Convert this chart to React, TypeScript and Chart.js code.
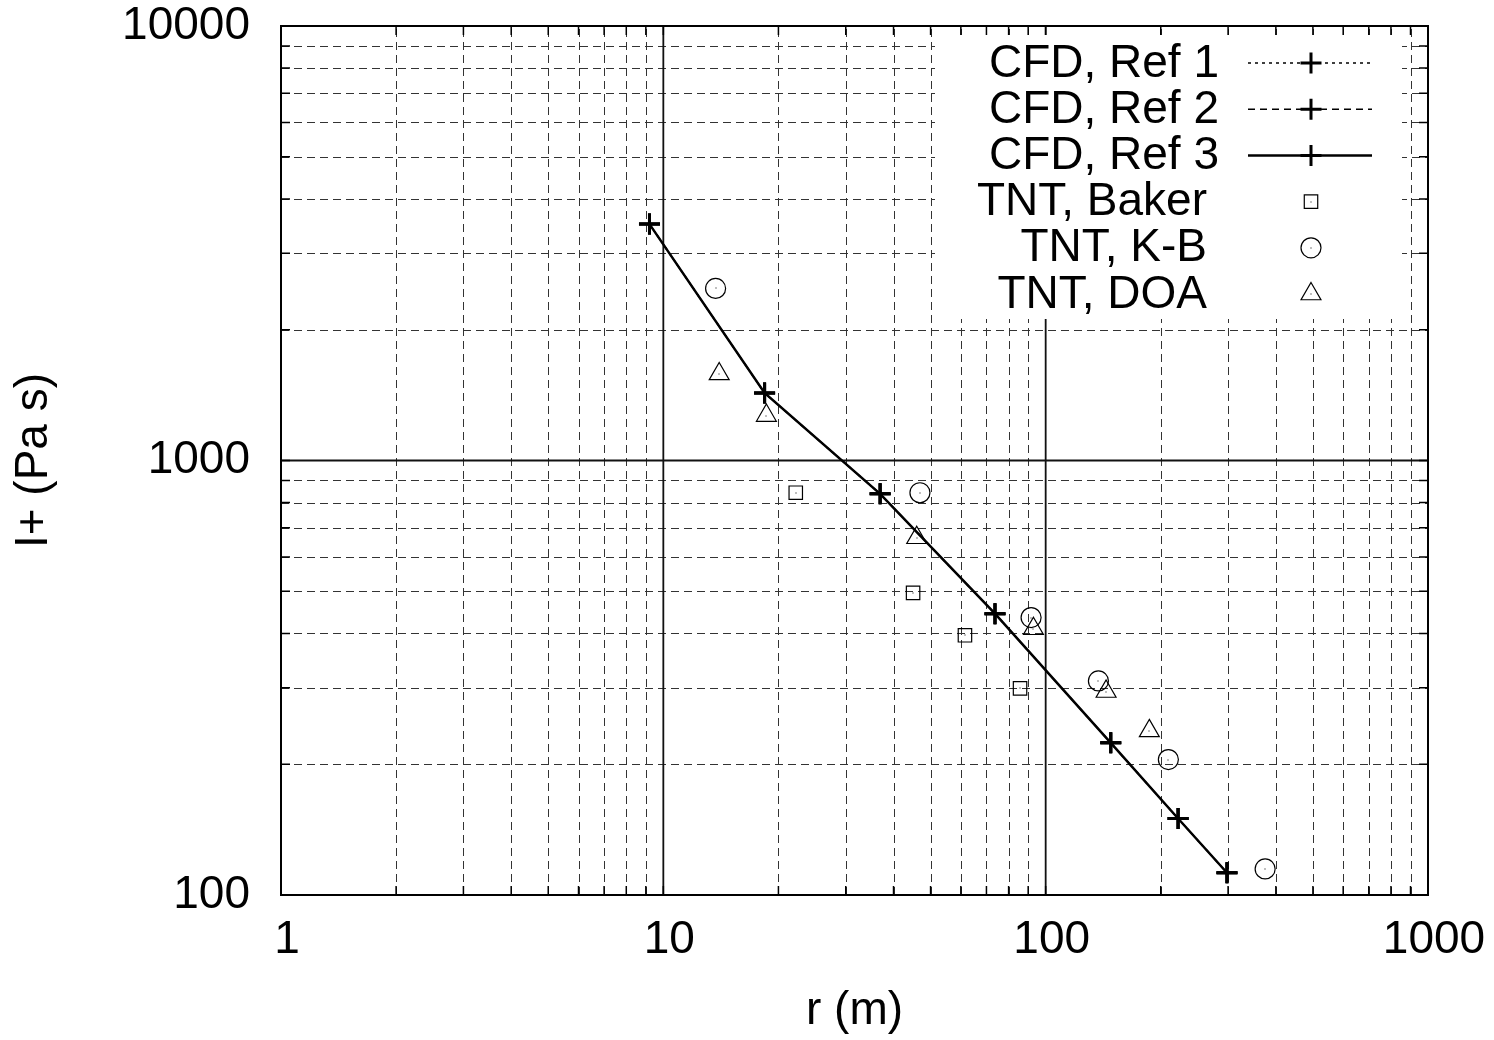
import React, { useEffect, useRef } from "react";
import { Chart, registerables } from "chart.js";

Chart.register(...registerables);

// ---- data ----
const cfdRadius = [9.2, 18.4, 36.9, 73.7, 148, 222, 298];
const cfdRef1Impulse = [3500, 1430, 838, 444, 224, 150, 112.5];
const cfdRef2Impulse = [3500, 1430, 838, 444, 224, 150, 112.5];
const cfdRef3Impulse = [3500, 1430, 838, 444, 224, 150, 112.5];
const bakerRadius = [22.2, 45.0, 61.5, 85.7];
const bakerImpulse = [843, 496, 396, 299];
const kbRadius = [13.7, 46.9, 91.6, 137.4, 209.4, 375];
const kbImpulse = [2489, 843, 435, 311, 205, 114.8];
const doaRadius = [14.0, 18.6, 46.0, 92.9, 143.9, 186.7];
const doaImpulse = [1582, 1269, 664, 410, 294, 238.6];
const seriesLabels = ["CFD, Ref 1", "CFD, Ref 2", "CFD, Ref 3", "TNT, Baker", "TNT, K-B", "TNT, DOA"];
const xTickValues = [1, 10, 100, 1000];
const yTickValues = [100, 1000, 10000];
const xTitle = "r (m)";
const yTitle = "I+ (Pa s)";

const FONT = "'Liberation Sans', Arial, Helvetica, sans-serif";
const FS = 46;

const pts = (xs: number[], ys: number[]) => xs.map((x, i) => ({ x, y: ys[i] }));

const minorBetween = (decades: number[]) => {
  const out: number[] = [];
  for (let i = 0; i < decades.length - 1; i++) {
    for (let m = 2; m <= 9; m++) out.push(decades[i] * m);
  }
  return out;
};

const xMinor = minorBetween(xTickValues);
const yMinor = minorBetween(yTickValues);

type Marker = "cross" | "rect" | "circle" | "triangle";

function drawMarker(ctx: CanvasRenderingContext2D, kind: Marker, x: number, y: number, r: number, lw: number) {
  ctx.save();
  ctx.setLineDash([]);
  ctx.strokeStyle = "#000";
  ctx.lineWidth = lw;
  ctx.beginPath();
  if (kind === "cross") {
    ctx.moveTo(x - r, y);
    ctx.lineTo(x + r, y);
    ctx.moveTo(x, y - r);
    ctx.lineTo(x, y + r);
  } else if (kind === "rect") {
    const s = r * Math.SQRT1_2;
    ctx.rect(x - s, y - s, 2 * s, 2 * s);
  } else if (kind === "circle") {
    ctx.arc(x, y, r, 0, Math.PI * 2);
  } else {
    let a = 0;
    ctx.moveTo(x + Math.sin(a) * r, y - Math.cos(a) * r);
    a += (2 * Math.PI) / 3;
    ctx.lineTo(x + Math.sin(a) * r, y - Math.cos(a) * r);
    a += (2 * Math.PI) / 3;
    ctx.lineTo(x + Math.sin(a) * r, y - Math.cos(a) * r);
    ctx.closePath();
  }
  ctx.stroke();
  if (kind !== "cross") {
    ctx.fillStyle = "#000";
    ctx.fillRect(Math.round(x) - 0.5, Math.round(y) - 0.5, 1, 1);
  }
  ctx.restore();
}

const gnuplotDecor = {
  id: "gnuplotDecor",
  beforeDatasetsDraw(chart: any) {
    const { ctx, chartArea: a, scales } = chart;
    const xs = scales.x;
    const ys = scales.y;
    ctx.save();
    // minor dashed grid
    ctx.lineWidth = 1;
    ctx.strokeStyle = "#333";
    ctx.setLineDash([8, 5]);
    ctx.beginPath();
    for (const v of xMinor) {
      const px = Math.round(xs.getPixelForValue(v)) + 0.5;
      ctx.moveTo(px, a.bottom);
      ctx.lineTo(px, a.top);
    }
    for (const v of yMinor) {
      const py = Math.round(ys.getPixelForValue(v)) + 0.5;
      ctx.moveTo(a.left, py);
      ctx.lineTo(a.right, py);
    }
    ctx.stroke();
    // major solid grid (inner decades)
    ctx.setLineDash([]);
    ctx.lineWidth = 1.8;
    ctx.strokeStyle = "#111";
    ctx.beginPath();
    for (const v of xTickValues.slice(1, -1)) {
      const px = xs.getPixelForValue(v);
      ctx.moveTo(px, a.bottom);
      ctx.lineTo(px, a.top);
    }
    for (const v of yTickValues.slice(1, -1)) {
      const py = ys.getPixelForValue(v);
      ctx.moveTo(a.left, py);
      ctx.lineTo(a.right, py);
    }
    ctx.stroke();
    ctx.restore();
  },
  afterDatasetsDraw(chart: any) {
    const { ctx, chartArea: a, scales } = chart;
    const xs = scales.x;
    const ys = scales.y;
    // centre dots of open markers
    chart.data.datasets.forEach((ds: any, i: number) => {
      if (ds.showLine) return;
      const meta = chart.getDatasetMeta(i);
      ctx.save();
      ctx.fillStyle = "#000";
      meta.data.forEach((el: any) => {
        ctx.fillRect(Math.round(el.x) - 0.5, Math.round(el.y) - 0.5, 1, 1);
      });
      ctx.restore();
    });

    // legend box
    ctx.save();
    ctx.fillStyle = "#fff";
    ctx.fillRect(935, 35, 467, 284);
    ctx.font = `${FS}px ${FONT}`;
    ctx.fillStyle = "#000";
    ctx.textAlign = "right";
    ctx.textBaseline = "middle";
    chart.data.datasets.forEach((ds: any, i: number) => {
      const cy = 63 + i * 46.2;
      const textRight = ds.showLine ? 1219 : 1207;
      ctx.fillText(ds.label, textRight, cy + 1);
      if (ds.showLine) {
        ctx.save();
        ctx.strokeStyle = "#000";
        ctx.lineWidth = ds.borderWidth;
        ctx.setLineDash(ds.borderDash || []);
        ctx.beginPath();
        ctx.moveTo(1248, cy);
        ctx.lineTo(1372, cy);
        ctx.stroke();
        ctx.restore();
      }
      drawMarker(ctx, ds.pointStyle, 1311, cy, ds.pointRadius, ds.pointBorderWidth);
    });
    ctx.restore();

    // ticks (inward, all four sides)
    ctx.save();
    ctx.strokeStyle = "#000";
    ctx.lineWidth = 1.5;
    ctx.setLineDash([]);
    ctx.beginPath();
    const tl = 9;
    for (const v of [...xMinor, ...xTickValues]) {
      const px = xs.getPixelForValue(v);
      ctx.moveTo(px, a.bottom);
      ctx.lineTo(px, a.bottom - tl);
      ctx.moveTo(px, a.top);
      ctx.lineTo(px, a.top + tl);
    }
    for (const v of [...yMinor, ...yTickValues]) {
      const py = ys.getPixelForValue(v);
      ctx.moveTo(a.left, py);
      ctx.lineTo(a.left + tl, py);
      ctx.moveTo(a.right, py);
      ctx.lineTo(a.right - tl, py);
    }
    ctx.stroke();
    // frame
    ctx.lineWidth = 2;
    ctx.strokeRect(a.left, a.top, a.right - a.left, a.bottom - a.top);
    ctx.restore();
  },
};

export default function App() {
  const ref = useRef<HTMLCanvasElement>(null);

  useEffect(() => {
    const canvas = ref.current;
    if (!canvas) return;
    const lineSet = (label: string, ys: number[], dash: number[], width: number) => ({
      label,
      data: pts(cfdRadius, ys),
      showLine: true,
      borderColor: "#000",
      backgroundColor: "#000",
      borderWidth: width,
      borderDash: dash,
      pointStyle: "cross",
      pointRadius: 10.5,
      pointBorderWidth: 3,
      pointBorderColor: "#000",
      tension: 0,
    });
    const markSet = (label: string, xs: number[], ys: number[], style: string, r: number) => ({
      label,
      data: pts(xs, ys),
      showLine: false,
      borderColor: "#000",
      backgroundColor: "rgba(0,0,0,0)",
      pointStyle: style,
      pointRadius: r,
      pointBorderWidth: 1.2,
      pointBorderColor: "#000",
      pointBackgroundColor: "rgba(0,0,0,0)",
    });

    const chart = new Chart(canvas, {
      type: "scatter",
      data: {
        datasets: [
          lineSet(seriesLabels[0], cfdRef1Impulse, [3, 4], 1.5),
          lineSet(seriesLabels[1], cfdRef2Impulse, [7, 5], 1.5),
          lineSet(seriesLabels[2], cfdRef3Impulse, [], 2.5),
          markSet(seriesLabels[3], bakerRadius, bakerImpulse, "rect", 9.5),
          markSet(seriesLabels[4], kbRadius, kbImpulse, "circle", 10),
          markSet(seriesLabels[5], doaRadius, doaImpulse, "triangle", 11.5),
        ] as any,
      },
      options: {
        animation: false,
        responsive: false,
        maintainAspectRatio: false,
        devicePixelRatio: 1,
        events: [],
        layout: { padding: { top: 26, right: 66, left: 0, bottom: 0 } },
        plugins: {
          legend: { display: false },
          tooltip: { enabled: false },
          title: { display: false },
        },
        scales: {
          x: {
            type: "logarithmic",
            position: "bottom",
            min: 1,
            max: 1000,
            afterFit: (s: any) => {
              s.height = 145;
              s.paddingLeft = 0;
              s.paddingRight = 0;
              s.paddingTop = 0;
              s.paddingBottom = 0;
            },
            afterBuildTicks: (s: any) => {
              s.ticks = xTickValues.map((v) => ({ value: v }));
            },
            grid: { display: false, drawTicks: false },
            border: { display: false },
            ticks: {
              callback: (v: any) => String(v),
              font: { family: FONT, size: FS },
              color: "#000",
              padding: 18,
              labelOffset: 6,
              maxRotation: 0,
              autoSkip: false,
            },
            title: {
              display: true,
              text: xTitle,
              font: { family: FONT, size: FS },
              color: "#000",
              padding: { top: 0, bottom: 1 },
            },
          },
          y: {
            type: "logarithmic",
            position: "left",
            min: 100,
            max: 10000,
            afterFit: (s: any) => {
              s.width = 281;
              s.paddingLeft = 0;
              s.paddingRight = 0;
              s.paddingTop = 0;
              s.paddingBottom = 0;
            },
            afterBuildTicks: (s: any) => {
              s.ticks = yTickValues.map((v) => ({ value: v }));
            },
            grid: { display: false, drawTicks: false },
            border: { display: false },
            ticks: {
              callback: (v: any) => String(v),
              font: { family: FONT, size: FS },
              color: "#000",
              padding: 31,
              autoSkip: false,
            },
            title: {
              display: true,
              text: yTitle,
              font: { family: FONT, size: FS },
              color: "#000",
              padding: { top: 7, bottom: 0 },
            },
          },
        },
      },
      plugins: [gnuplotDecor],
    } as any);

    return () => chart.destroy();
  }, []);

  return (
    <div style={{ position: "absolute", left: 0, top: 0, width: 1494, height: 1040, background: "#fff" }}>
      <canvas ref={ref} width={1494} height={1040} style={{ display: "block", width: 1494, height: 1040 }} />
    </div>
  );
}
